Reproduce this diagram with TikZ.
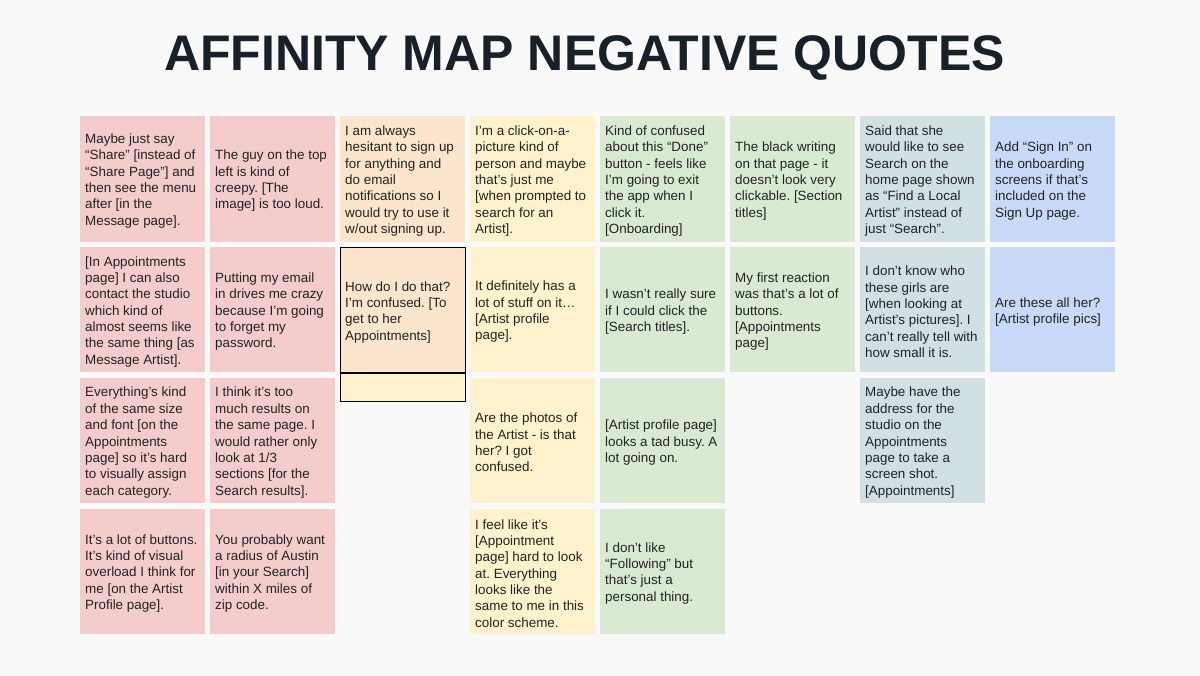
\documentclass[tikz,border=0pt]{standalone}
\usepackage{fontspec}
\setmainfont{Liberation Sans}
\definecolor{pagebg}{HTML}{F9F9F9}
\definecolor{titleink}{HTML}{18212A}
\definecolor{noteink}{HTML}{222222}
\definecolor{pinknote}{HTML}{F4CCCC}
\definecolor{orangenote}{HTML}{FCE5CD}
\definecolor{yellownote}{HTML}{FFF2CC}
\definecolor{greennote}{HTML}{D9EAD3}
\definecolor{slatenote}{HTML}{D0E0E3}
\definecolor{bluenote}{HTML}{C9DAF8}
\newcommand\quotefont{\fontsize{13.4}{16.35}\selectfont\frenchspacing}
% a sticky note: coloured square (#1) plus its left-aligned quote (#1-text)
\newcommand\quotenote[5]{%
  \node[#2] (#1) at (#3,#4) {};
  \node[quote] (#1-text) at ([xshift=5pt,yshift=-2pt]#1.west) {#5};
}
\begin{document}
\begin{tikzpicture}[x=1pt,y=-1pt,
  note/.style={anchor=north west, minimum width=125pt, minimum height=125.5pt,
    inner sep=0pt},
  quote/.style={anchor=west, align=left, inner sep=0pt, font=\quotefont,
    text=noteink},
  pink/.style={note, fill=pinknote},
  orange/.style={note, fill=orangenote},
  yellow/.style={note, fill=yellownote},
  green/.style={note, fill=greennote},
  slate/.style={note, fill=slatenote},
  blue/.style={note, fill=bluenote},
  picked/.style={draw=black, line width=1.1pt}]

% page
\fill[pagebg] (0,0) rectangle (1200,676);
\useasboundingbox (0,0) rectangle (1200,676);

% heading
\node[anchor=base, font=\bfseries\fontsize{50}{56}\selectfont, text=titleink,
  inner sep=0pt] (title) at (584.5,71) {AFFINITY MAP NEGATIVE QUOTES};

% column 1
\quotenote{c1r1}{pink}{80}{116}{Maybe just say\\“Share” [instead of\\“Share Page”] and\\then see the menu\\after [in the\\Message page].}
\quotenote{c1r2}{pink}{80}{246.8}{[In Appointments\\page] I can also\\contact the studio\\which kind of\\almost seems like\\the same thing [as\\Message Artist].}
\quotenote{c1r3}{pink}{80}{377.6}{Everything’s kind\\of the same size\\and font [on the\\Appointments\\page] so it’s hard\\to visually assign\\each category.}
\quotenote{c1r4}{pink}{80}{508.4}{It’s a lot of buttons.\\It’s kind of visual\\overload I think for\\me [on the Artist\\Profile page].}

% column 2
\quotenote{c2r1}{pink}{210}{116}{The guy on the top\\left is kind of\\creepy. [The\\image] is too loud.}
\quotenote{c2r2}{pink}{210}{246.8}{Putting my email\\in drives me crazy\\because I’m going\\to forget my\\password.}
\quotenote{c2r3}{pink}{210}{377.6}{I think it’s too\\much results on\\the same page. I\\would rather only\\look at 1/3\\sections [for the\\Search results].}
\quotenote{c2r4}{pink}{210}{508.4}{You probably want\\a radius of Austin\\{}[in your Search]\\within X miles of\\zip code.}

% column 3 (the second note is outlined, with an empty strip under it)
\quotenote{c3r1}{orange}{340}{116}{I am always\\hesitant to sign up\\for anything and\\do email\\notifications so I\\would try to use it\\w/out signing up.}
\quotenote{c3r2}{orange, picked}{340}{246.8}{How do I do that?\\I’m confused. [To\\get to her\\Appointments]}
\node[note, fill=yellownote, picked, minimum height=27.7pt] (c3strip) at (c3r2.south west) {};

% column 4
\quotenote{c4r1}{yellow}{470}{116}{I’m a click-on-a-\\picture kind of\\person and maybe\\that’s just me\\{}[when prompted to\\search for an\\Artist].}
\quotenote{c4r2}{yellow}{470}{246.8}{It definitely has a\\lot of stuff on it…\\{}[Artist profile\\page].}
\quotenote{c4r3}{yellow}{470}{377.6}{Are the photos of\\the Artist - is that\\her? I got\\confused.}
\quotenote{c4r4}{yellow}{470}{508.4}{I feel like it’s\\{}[Appointment\\page] hard to look\\at. Everything\\looks like the\\same to me in this\\color scheme.}

% column 5
\quotenote{c5r1}{green}{600}{116}{Kind of confused\\about this “Done”\\button - feels like\\I’m going to exit\\the app when I\\click it.\\{}[Onboarding]}
\quotenote{c5r2}{green}{600}{246.8}{I wasn’t really sure\\if I could click the\\{}[Search titles].}
\quotenote{c5r3}{green}{600}{377.6}{[Artist profile page]\\looks a tad busy. A\\lot going on.}
\quotenote{c5r4}{green}{600}{508.4}{I don’t like\\“Following” but\\that’s just a\\personal thing.}

% column 6
\quotenote{c6r1}{green}{730}{116}{The black writing\\on that page - it\\doesn’t look very\\clickable. [Section\\titles]}
\quotenote{c6r2}{green}{730}{246.8}{My first reaction\\was that’s a lot of\\buttons.\\{}[Appointments\\page]}

% column 7
\quotenote{c7r1}{slate}{860}{116}{Said that she\\would like to see\\Search on the\\home page shown\\as “Find a Local\\Artist” instead of\\just “Search”.}
\quotenote{c7r2}{slate}{860}{246.8}{I don’t know who\\these girls are\\{}[when looking at\\Artist’s pictures]. I\\can’t really tell with\\how small it is.}
\quotenote{c7r3}{slate}{860}{377.6}{Maybe have the\\address for the\\studio on the\\Appointments\\page to take a\\screen shot.\\{}[Appointments]}

% column 8
\quotenote{c8r1}{blue}{990}{116}{Add “Sign In” on\\the onboarding\\screens if that’s\\included on the\\Sign Up page.}
\quotenote{c8r2}{blue}{990}{246.8}{Are these all her?\\{}[Artist profile pics]}

\end{tikzpicture}
\end{document}
